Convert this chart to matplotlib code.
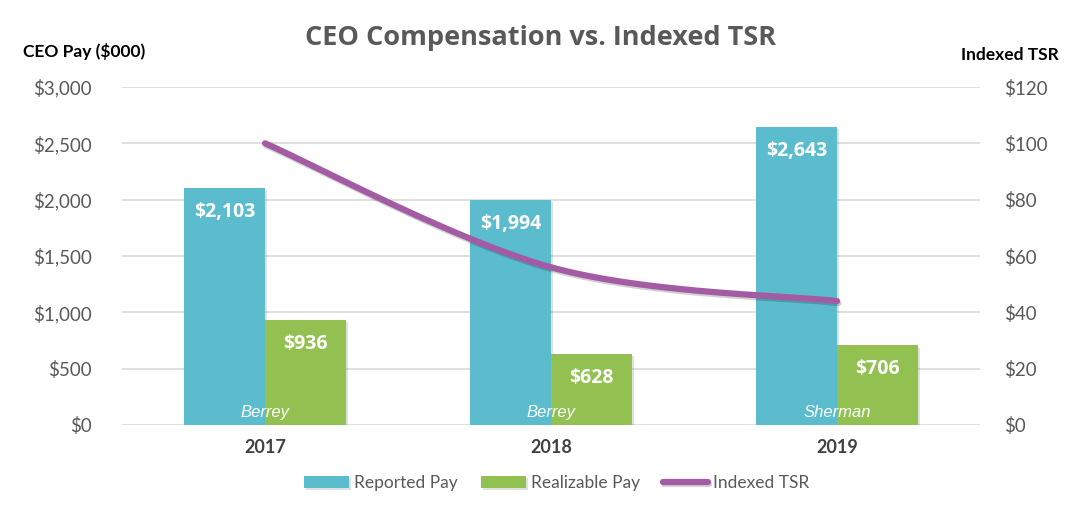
import matplotlib.pyplot as plt
import matplotlib.patheffects as pe
import numpy as np
from matplotlib.ticker import FuncFormatter

years = ["2017", "2018", "2019"]
reported_pay = [2103, 1994, 2643]
realizable_pay = [936, 628, 706]
indexed_tsr = [100, 56, 44]
ceo_names = ["Berrey", "Berrey", "Sherman"]

TEAL = "#5BBCCE"
GREEN = "#92C152"
PURPLE = "#A35BA4"
GRAY = "#595959"

plt.rcParams['font.family'] = ['Lato', 'DejaVu Sans']


def smooth_line(xs, ys, n=60):
    # Excel-style smoothed line: cubic bezier with Catmull-Rom control points
    pts = np.column_stack([xs, ys]).astype(float)
    out = []
    for i in range(len(pts) - 1):
        p0 = pts[max(i - 1, 0)]
        p1 = pts[i]
        p2 = pts[i + 1]
        p3 = pts[min(i + 2, len(pts) - 1)]
        c1 = p1 + (p2 - p0) / 6
        c2 = p2 - (p3 - p1) / 6
        t = np.linspace(0, 1, n)[:, None]
        seg = ((1 - t) ** 3) * p1 + 3 * ((1 - t) ** 2) * t * c1 + 3 * (1 - t) * t ** 2 * c2 + t ** 3 * p2
        out.append(seg if i == 0 else seg[1:])
    out = np.vstack(out)
    return out[:, 0], out[:, 1]


fig = plt.figure(figsize=(10.81, 5.11), dpi=100)
ax = fig.add_axes([0.1129, 0.1683, 0.7937, 0.6614])
ax2 = ax.twinx()

x = np.arange(len(years))
w = 0.284
shadow = [pe.SimplePatchShadow(offset=(1.5, -1.5), alpha=0.15), pe.Normal()]
b1 = ax.bar(x - w / 2, reported_pay, w, color=TEAL, label="Reported Pay", zorder=3,
            path_effects=shadow)
b2 = ax.bar(x + w / 2, realizable_pay, w, color=GREEN, label="Realizable Pay", zorder=3,
            path_effects=shadow)

for rect, v in zip(list(b1) + list(b2), reported_pay + realizable_pay):
    ax.annotate(f"${v:,}", (rect.get_x() + rect.get_width() / 2, v),
                xytext=(0, -24), textcoords="offset pixels",
                ha="center", va="center", color="white", fontsize=14, fontweight="bold",
                family=["Open Sans", "DejaVu Sans"], zorder=5)

for xi, name in zip(x, ceo_names):
    ax.annotate(name, (xi, 0), xytext=(0, 12), textcoords="offset pixels",
                ha="center", va="center", color="white", fontsize=12, style="italic",
                family=["Liberation Sans", "DejaVu Sans"], zorder=5)

ax.set_xlim(-0.5, 2.5)
ax.set_ylim(0, 3000)
ax.set_yticks(np.arange(0, 3001, 500))
ax.yaxis.set_major_formatter(FuncFormatter(lambda v, p: f"${v:,.0f}"))
ax.grid(axis="y", color="#D9D9D9", linewidth=1.2, zorder=0)
ax.set_axisbelow(True)
ax.set_xticks(x)
ax.set_xticklabels(years, fontweight="bold", fontsize=13, color="#404040")
ax.tick_params(axis="x", length=0, pad=10)
ax.tick_params(axis="y", length=0, pad=22, labelsize=13.5, labelcolor=GRAY)

lx, ly = smooth_line(x, indexed_tsr)
line, = ax2.plot(lx, ly, color=PURPLE, linewidth=4.5, solid_capstyle="round", label="Indexed TSR",
                 path_effects=[pe.SimpleLineShadow(offset=(1, -1.5), alpha=0.18), pe.Normal()])
ax2.set_ylim(0, 120)
ax2.set_yticks(np.arange(0, 121, 20))
ax2.yaxis.set_major_formatter(FuncFormatter(lambda v, p: f"${v:,.0f}"))
ax2.tick_params(axis="y", length=0, pad=17, labelsize=13.5, labelcolor=GRAY)

for a in (ax, ax2):
    for s in a.spines.values():
        s.set_visible(False)

fig.text(0.5, 0.925, "CEO Compensation vs. Indexed TSR", ha="center", va="center",
         fontsize=19.5, fontweight="bold", color=GRAY, family=["Open Sans", "DejaVu Sans"])
fig.text(0.021, 0.9, "CEO Pay ($000)", ha="left", va="center", fontsize=12.5,
         fontweight="bold", color="black")
fig.text(0.979, 0.893, "Indexed TSR", ha="right", va="center", fontsize=12.5,
         fontweight="bold", color="black")

fig.legend([b1, b2, line], ["Reported Pay", "Realizable Pay", "Indexed TSR"],
           loc="center", bbox_to_anchor=(0.515, 0.055), ncol=3, frameon=False,
           fontsize=12.5, labelcolor=GRAY, handlelength=2.6, handleheight=0.7,
           handletextpad=0.3, columnspacing=1.3)

fig.savefig("out.png", dpi=100)
